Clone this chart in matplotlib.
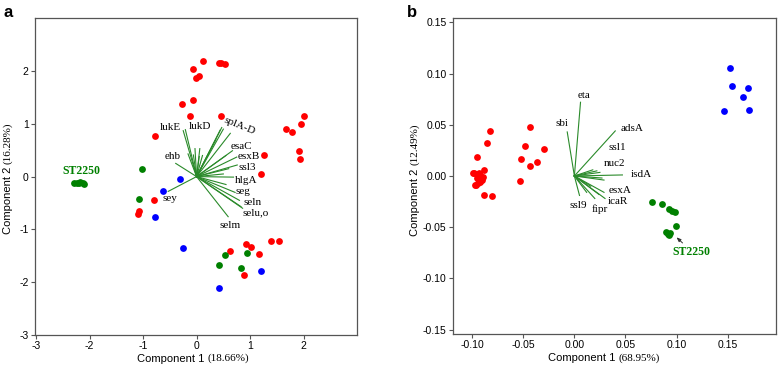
import numpy as np
import matplotlib
matplotlib.use("Agg")
import matplotlib.pyplot as plt

plt.rcParams["axes.unicode_minus"] = False

# ---- panel a data ----
a_red_x = [0.12, -0.06, -0.01, 0.04, 0.41, 0.46, 0.53, -0.07, -0.27, -0.12, 0.45, -0.78,
           1.67, 1.78, 1.96, 2.01, 1.92, 1.93, 1.26, 1.20, -0.79, -1.08, -1.09,
           0.63, 0.93, 1.02, 1.40, 1.54, 1.16, 0.88]
a_red_y = [2.19, 2.04, 1.86, 1.91, 2.15, 2.15, 2.13, 1.45, 1.38, 1.15, 1.14, 0.76,
           0.90, 0.85, 1.00, 1.14, 0.49, 0.33, 0.41, 0.04, -0.45, -0.65, -0.70,
           -1.41, -1.27, -1.33, -1.22, -1.22, -1.46, -1.87]
a_blue_x = [-0.31, -0.63, -0.78, -0.26, 0.41, 1.21]
a_blue_y = [-0.04, -0.27, -0.76, -1.35, -2.12, -1.79]
a_green_x = [-1.02, -1.07, 0.53, 0.42, 0.83, 0.95,
             -2.29, -2.24, -2.18, -2.13, -2.10, -2.20]
a_green_y = [0.15, -0.43, -1.49, -1.67, -1.73, -1.44,
             -0.13, -0.12, -0.10, -0.12, -0.14, -0.13]
a_vec_x = [-0.25, -0.21, -0.16, -0.06, 0.11, 0.05, -0.03, 0.06, 0.44, 0.47, 0.50, 0.63, 0.36,
           0.67, 0.55, 0.75, 0.76, 0.60, 0.69, 0.50, 0.72, 0.55, 0.80, 0.86, 0.83, 0.59,
           -0.39, -0.53]
a_vec_y = [0.87, 0.89, 0.43, 0.41, 0.40, 0.38, 0.53, 0.53, 0.88, 0.93, 0.90, 0.82, 0.70,
           0.49, 0.40, 0.37, 0.22, 0.15, -0.01, 0.05, -0.30, -0.15, -0.45, -0.60, -0.57, -0.76,
           0.25, -0.28]
a_lab = ["lukE", "lukD", "splA-D", "esaC", "esxB", "ssl3", "hlgA", "seg", "seln",
         "selu,o", "selm", "ehb", "sey"]
a_lab_x = [-0.50, 0.06, 0.81, 0.84, 0.97, 0.95, 0.93, 0.87, 1.05, 1.10, 0.62, -0.45, -0.49]
a_lab_y = [0.93, 0.95, 0.95, 0.57, 0.38, 0.18, -0.08, -0.29, -0.49, -0.69, -0.93, 0.38, -0.42]

# ---- panel b data ----
b_red_x = [-0.083, -0.086, -0.095, -0.098, -0.088, -0.093, -0.092, -0.095, -0.089, -0.092,
           -0.096, -0.094, -0.090, -0.088, -0.081, -0.099, -0.097,
           -0.043, -0.048, -0.030, -0.052, -0.037, -0.043, -0.053]
b_red_y = [0.044, 0.032, 0.019, 0.003, 0.006, 0.003, 0.001, -0.002, -0.001, -0.006,
           -0.009, -0.007, -0.004, -0.019, -0.020, 0.003, -0.009,
           0.048, 0.029, 0.026, 0.017, 0.014, 0.010, -0.005]
b_blue_x = [0.152, 0.154, 0.170, 0.165, 0.146, 0.171]
b_blue_y = [0.105, 0.088, 0.086, 0.077, 0.063, 0.064]
b_green_x = [0.076, 0.086, 0.093, 0.096, 0.098, 0.099, 0.090, 0.092, 0.093, 0.094]
b_green_y = [-0.025, -0.027, -0.032, -0.034, -0.035, -0.049, -0.055, -0.057, -0.058, -0.056]
b_vec_x = [0.006, -0.007, 0.040, 0.018, 0.022, 0.025, 0.047, 0.027, 0.029, 0.029, 0.030,
           0.024, 0.020, 0.005, 0.012, 0.016]
b_vec_y = [0.072, 0.043, 0.044, 0.006, 0.005, 0.0035, 0.001, -0.002, -0.004, -0.016, -0.022,
           -0.018, -0.022, -0.019, -0.016, -0.010]
b_lab = ["eta", "sbi", "adsA", "ssl1", "nuc2", "isdA", "esxA", "icaR", "fipr", "ssl9"]
b_lab_x = [0.0098, -0.0117, 0.056, 0.042, 0.039, 0.0658, 0.045, 0.043, 0.0244, 0.0033]
b_lab_y = [0.079, 0.0514, 0.0465, 0.028, 0.0117, 0.001, -0.0142, -0.0250, -0.0328, -0.0293]

RED, BLUE, GREEN = "#ff0000", "#0000ff", "#008000"
LINE = "#2a8a2a"
SERIF = "Liberation Serif"
SANS = "Liberation Sans"

fig = plt.figure(figsize=(7.78, 3.66), dpi=100)
ax1 = fig.add_axes([0.045, 0.085, 0.414, 0.865])
ax2 = fig.add_axes([0.582, 0.087, 0.415, 0.863])


def style_axes(ax):
    for s in ax.spines.values():
        s.set_color("#555555")
        s.set_linewidth(0.9)
    ax.tick_params(direction="out", length=3, width=0.8, color="#555555",
                   labelsize=7.5, pad=1.5)
    for t in ax.get_xticklabels() + ax.get_yticklabels():
        t.set_fontfamily(SANS)


def axis_labels(ax, comp1, comp2, xsplit, ysplit, ylab_x):
    ax.text(xsplit, -0.075, "Component 1 ", transform=ax.transAxes, ha="right",
            va="center", fontsize=8, family=SANS)
    ax.text(xsplit, -0.075, comp1, transform=ax.transAxes, ha="left",
            va="center", fontsize=8, family=SERIF)
    ax.text(ylab_x, ysplit, "Component 2 ", transform=ax.transAxes, ha="center",
            va="top", rotation=90, fontsize=8, family=SANS)
    ax.text(ylab_x, ysplit, comp2, transform=ax.transAxes, ha="center",
            va="bottom", rotation=90, fontsize=8, family=SERIF)


# panel a
for x, y in zip(a_vec_x, a_vec_y):
    ax1.plot([0, x], [0, y], color=LINE, lw=0.8, zorder=2)
ax1.scatter(a_red_x, a_red_y, s=24, color=RED, zorder=3, linewidths=0)
ax1.scatter(a_blue_x, a_blue_y, s=24, color=BLUE, zorder=3, linewidths=0)
ax1.scatter(a_green_x, a_green_y, s=24, color=GREEN, zorder=3, linewidths=0)
for lab, x, y in zip(a_lab, a_lab_x, a_lab_y):
    rot = -22 if lab == "splA-D" else 0
    ax1.text(x, y, lab, ha="center", va="center", fontsize=8, family=SERIF,
             rotation=rot, zorder=4)
ax1.text(-2.16, 0.10, "ST2250", color=GREEN, fontweight="bold", ha="center",
         va="center", fontsize=8.5, family=SERIF)
ax1.set_xlim(-3.02, 3.0)
ax1.set_ylim(-3.0, 3.0)
ax1.set_xticks([-3, -2, -1, 0, 1, 2])
ax1.set_yticks([-3, -2, -1, 0, 1, 2])
style_axes(ax1)
axis_labels(ax1, "(18.66%)", "(16.28%)", 0.535, 0.54, -0.084)
fig.text(0.005, 0.985, "a", fontsize=12, fontweight="bold", family=SANS,
         ha="left", va="top")

# panel b
for x, y in zip(b_vec_x, b_vec_y):
    ax2.plot([0, x], [0, y], color=LINE, lw=0.8, zorder=2)
ax2.scatter(b_red_x, b_red_y, s=24, color=RED, zorder=3, linewidths=0)
ax2.scatter(b_blue_x, b_blue_y, s=24, color=BLUE, zorder=3, linewidths=0)
ax2.scatter(b_green_x, b_green_y, s=24, color=GREEN, zorder=3, linewidths=0)
for lab, x, y in zip(b_lab, b_lab_x, b_lab_y):
    ax2.text(x, y, lab, ha="center", va="center", fontsize=8, family=SERIF, zorder=4)
ax2.annotate("ST2250", xy=(0.099, -0.059), xytext=(0.115, -0.074), color=GREEN,
             fontweight="bold", ha="center", va="center", fontsize=8.5, family=SERIF,
             arrowprops=dict(arrowstyle="-|>,head_length=0.3,head_width=0.12",
                             color="#333333", lw=0.7, shrinkA=7, shrinkB=1))
ax2.set_xlim(-0.119, 0.197)
ax2.set_ylim(-0.1545, 0.154)
ax2.set_xticks([-0.10, -0.05, 0.0, 0.05, 0.10, 0.15])
ax2.set_yticks([-0.15, -0.10, -0.05, 0.0, 0.05, 0.10, 0.15])
ax2.xaxis.set_major_formatter(matplotlib.ticker.FormatStrFormatter("%.2f"))
ax2.yaxis.set_major_formatter(matplotlib.ticker.FormatStrFormatter("%.2f"))
style_axes(ax2)
axis_labels(ax2, "(68.95%)", "(12.49%)", 0.513, 0.535, -0.117)
fig.text(0.523, 0.985, "b", fontsize=12, fontweight="bold", family=SANS,
         ha="left", va="top")

fig.savefig("out.png", dpi=100)
